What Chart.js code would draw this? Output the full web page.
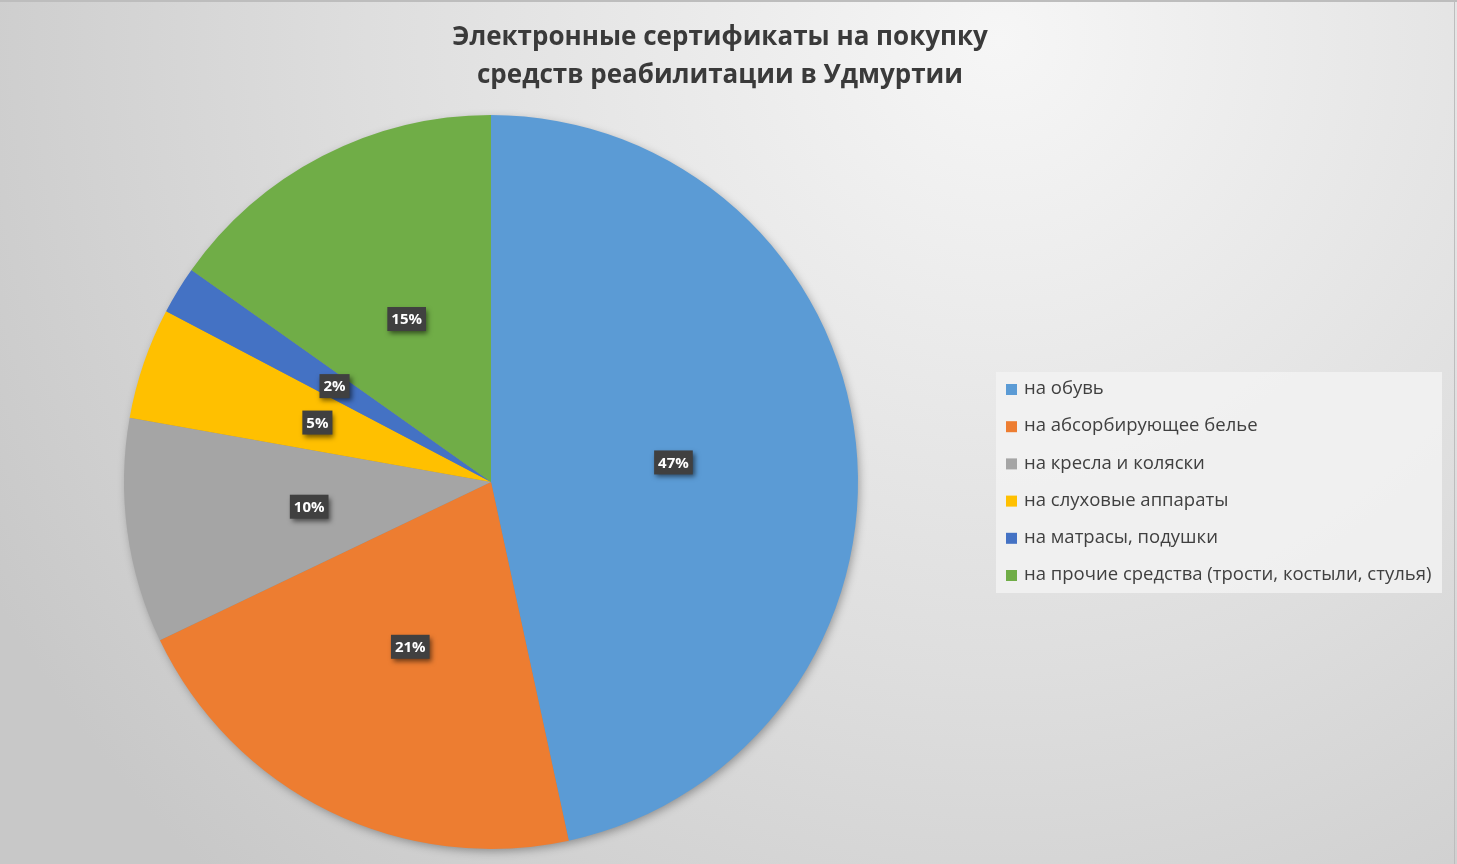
<!DOCTYPE html>
<html><head><meta charset="utf-8">
<script src="https://cdn.jsdelivr.net/npm/chart.js@4/dist/chart.umd.min.js"></script>
<style>html,body{margin:0;padding:0;overflow:hidden;background:#e0e0e0}#wrap{width:1457px;height:864px;position:relative}</style>
</head><body><div id="wrap"><canvas id="c" width="1457" height="864"></canvas></div>
<script>
const titleLines = ['Электронные сертификаты на покупку', 'средств реабилитации в Удмуртии'];
const categories = ['на обувь', 'на абсорбирующее белье', 'на кресла и коляски', 'на слуховые аппараты', 'на матрасы, подушки', 'на прочие средства (трости, костыли, стулья)'];
const shares = [46.6, 21.3, 9.9, 4.9, 2.1, 15.2];
const colors = ['#5B9BD5', '#ED7D31', '#A5A5A5', '#FFC000', '#4472C4', '#70AD47'];
const FONT = '"Open Sans", "DejaVu Sans", sans-serif';

const deco = {
  id: 'deco',
  beforeDraw(chart) {
    const ctx = chart.ctx, W = chart.width, H = chart.height;
    ctx.save();
    const g = ctx.createRadialGradient(1000, 40, 0, 1000, 40, 1150);
    g.addColorStop(0, '#f6f6f6');
    g.addColorStop(0.55, '#dedede');
    g.addColorStop(1, '#c8c8c8');
    ctx.fillStyle = g;
    ctx.fillRect(0, 0, W, H);
    ctx.fillStyle = '#bdbdbd';
    ctx.fillRect(0, 0, W, 2);
    ctx.fillRect(W - 3, 0, 1, H);
    ctx.restore();
  },
  beforeDatasetsDraw(chart) {
    const arc = chart.getDatasetMeta(0).data[0];
    if (!arc) return;
    const ctx = chart.ctx;
    ctx.save();
    ctx.shadowColor = 'rgba(0,0,0,0.35)';
    ctx.shadowBlur = 10;
    ctx.shadowOffsetX = 2;
    ctx.shadowOffsetY = 3;
    ctx.fillStyle = '#888';
    ctx.beginPath();
    ctx.arc(arc.x, arc.y, arc.outerRadius - 1, 0, Math.PI * 2);
    ctx.fill();
    ctx.restore();
  },
  afterDraw(chart) {
    const ctx = chart.ctx;
    const meta = chart.getDatasetMeta(0);
    const data = chart.data.datasets[0].data;
    const total = data.reduce((a, b) => a + b, 0);
    meta.data.forEach((arc, i) => {
      const p = arc.tooltipPosition();
      const txt = Math.round(data[i] / total * 100) + '%';
      ctx.save();
      ctx.font = 'bold 15px ' + FONT;
      const tw = ctx.measureText(txt).width;
      const bw = tw + 8, bh = 24;
      ctx.shadowColor = 'rgba(0,0,0,0.55)';
      ctx.shadowBlur = 5;
      ctx.shadowOffsetX = 2;
      ctx.shadowOffsetY = 3;
      ctx.fillStyle = '#404040';
      ctx.fillRect(p.x - bw / 2, p.y - bh / 2, bw, bh);
      ctx.shadowColor = 'transparent';
      ctx.fillStyle = '#ffffff';
      ctx.textAlign = 'center';
      ctx.textBaseline = 'middle';
      ctx.fillText(txt, p.x, p.y + 1);
      ctx.restore();
    });
    ctx.save();
    ctx.fillStyle = '#3a3a3a';
    ctx.font = 'bold 26px ' + FONT;
    ctx.textAlign = 'center';
    ctx.textBaseline = 'middle';
    ctx.fillText(titleLines[0], 720, 38);
    ctx.fillText(titleLines[1], 720, 76);
    ctx.restore();
    ctx.save();
    ctx.fillStyle = 'rgba(242,242,242,0.85)';
    ctx.fillRect(996, 372, 446, 221);
    ctx.font = '500 18.5px ' + FONT;
    ctx.textBaseline = 'middle';
    chart.data.labels.forEach((lab, i) => {
      const y = 389 + i * 37.2;
      ctx.fillStyle = colors[i];
      ctx.fillRect(1006, y - 5, 11, 11);
      ctx.fillStyle = '#404040';
      ctx.fillText(lab, 1024, y);
    });
    ctx.restore();
  }
};

new Chart(document.getElementById('c'), {
  type: 'pie',
  data: {
    labels: categories,
    datasets: [{ data: shares, backgroundColor: colors, borderWidth: 0, hoverOffset: 0 }]
  },
  options: {
    responsive: false,
    animation: false,
    events: [],
    layout: { padding: { left: 124, right: 599, top: 115, bottom: 15 } },
    plugins: { legend: { display: false }, tooltip: { enabled: false }, title: { display: false } }
  },
  plugins: [deco]
});
</script>
</body></html>
